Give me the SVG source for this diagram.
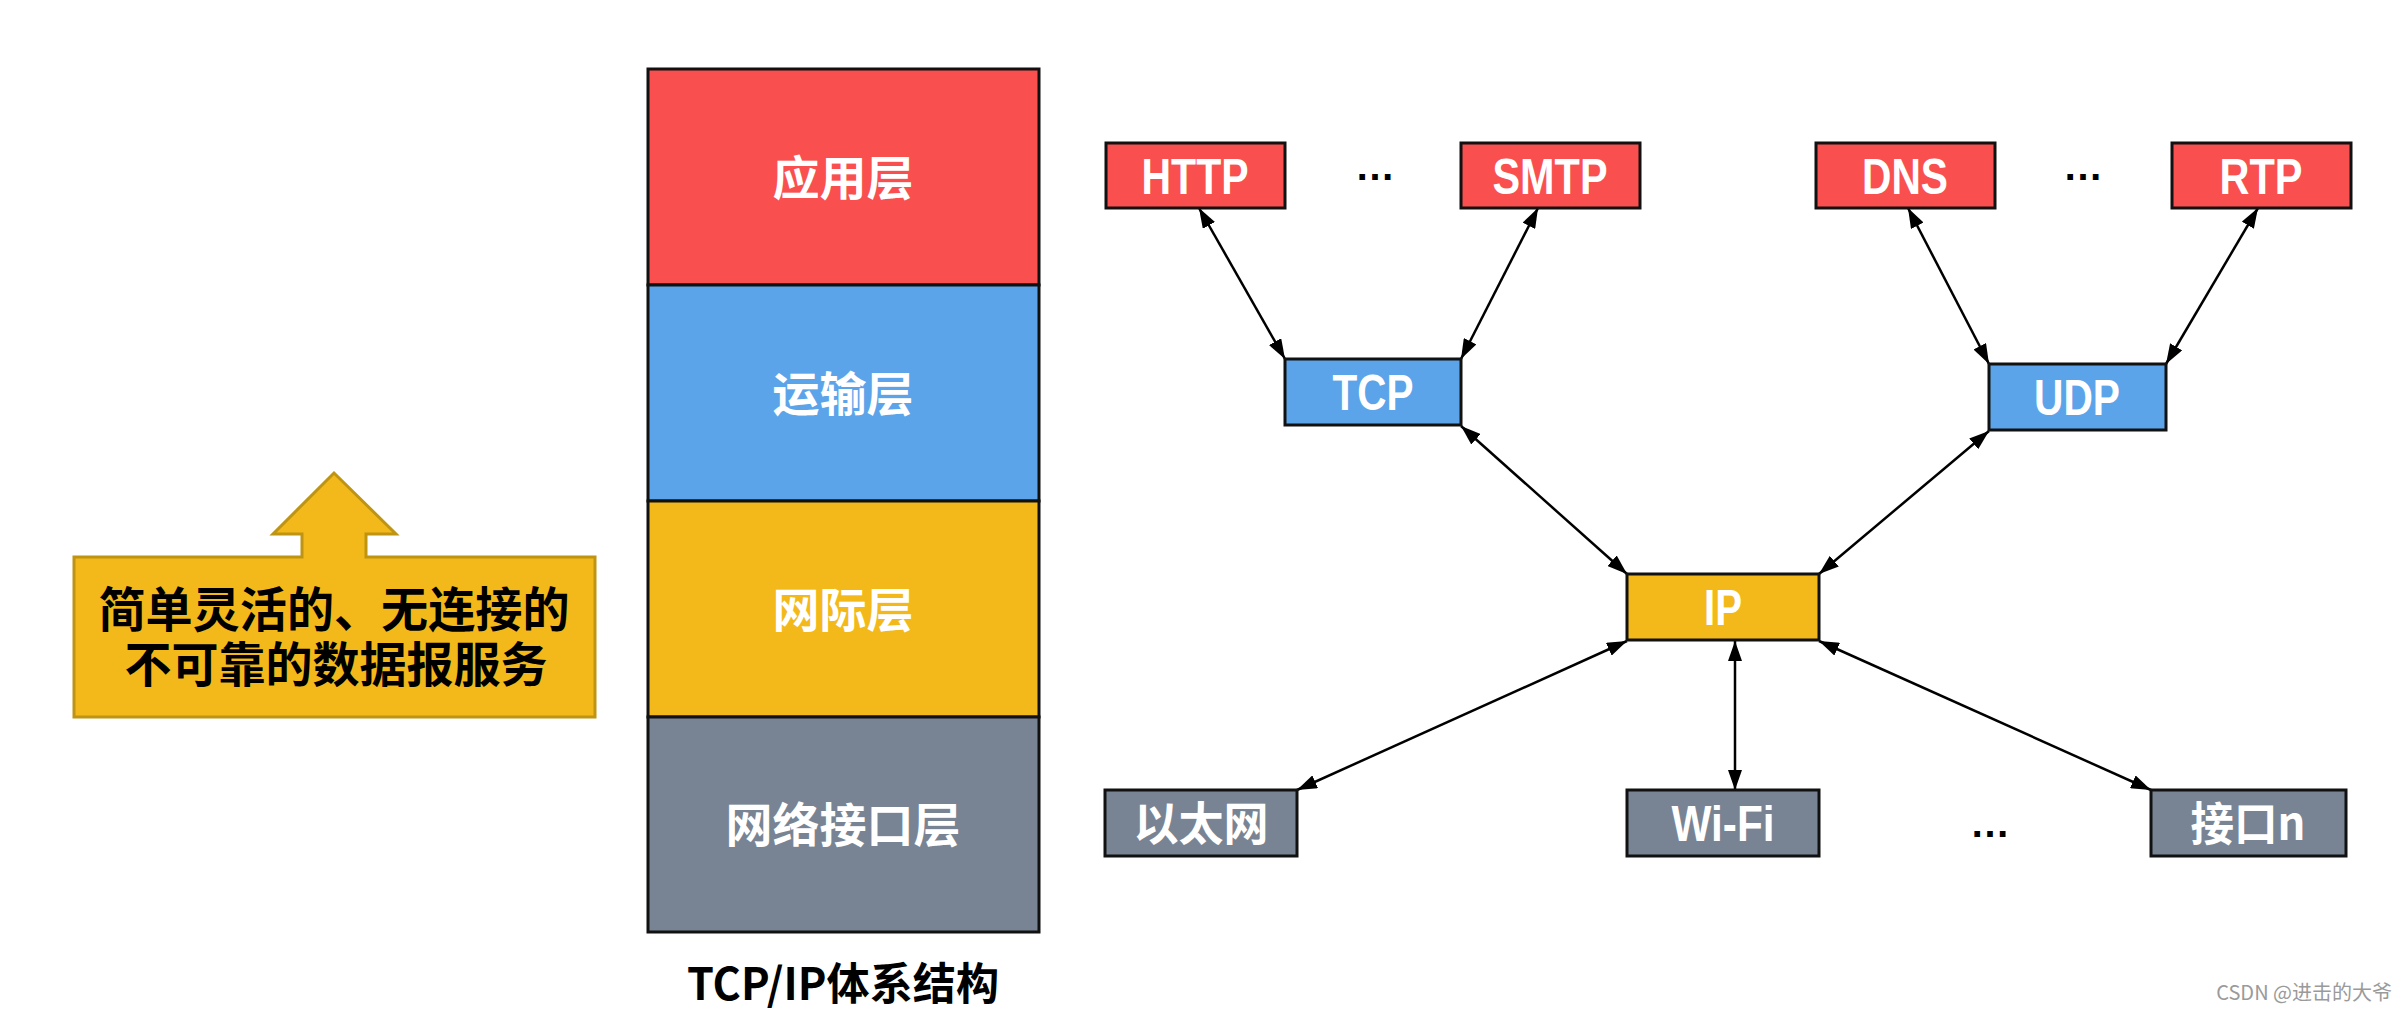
<svg xmlns="http://www.w3.org/2000/svg" width="2407" height="1012" viewBox="0 0 2407 1012">
<style>
.cjk{font-family:"Noto Sans CJK SC","Noto Sans",sans-serif;font-weight:bold;}
.cjk2{font-family:"Liberation Sans","Noto Sans CJK SC",sans-serif;font-weight:bold;}
.lat{font-family:"Liberation Sans","Noto Sans CJK SC",sans-serif;font-weight:bold;}
.w{fill:#ffffff;}
.k{fill:#000000;}
.red{fill:#F94F4F;stroke:#111;stroke-width:3;}
.blue{fill:#5CA4E9;stroke:#111;stroke-width:3;}
.yel{fill:#F3B91A;stroke:#111;stroke-width:3;}
.gray{fill:#788494;stroke:#111;stroke-width:3;}
.conn line{stroke:#000;stroke-width:2.5;marker-start:url(#ah);marker-end:url(#ah);}
</style>
<defs>
<marker id="ah" viewBox="0 0 20 14" markerUnits="userSpaceOnUse" markerWidth="20" markerHeight="14" refX="20" refY="7" orient="auto-start-reverse">
<path d="M0,0 L20,7 L0,14 z" fill="#000"/>
</marker>
</defs>
<rect width="2407" height="1012" fill="#ffffff"/>

<g id="callout">
<path d="M74,557 L302,557 L302,534 L273,534 L334,473 L396,534 L366,534 L366,557 L595,557 L595,717 L74,717 Z" fill="#F3B91A" stroke="#BF9412" stroke-width="3"/>
<text class="cjk2 k" x="334" y="627" font-size="48" text-anchor="middle" textLength="471" lengthAdjust="spacingAndGlyphs">简单灵活的、无连接的</text>
<text class="cjk2 k" x="336" y="682" font-size="48" text-anchor="middle" textLength="423" lengthAdjust="spacingAndGlyphs">不可靠的数据报服务</text>
</g>

<g id="stack">
<rect class="red" x="648" y="69" width="391" height="216"/>
<rect class="blue" x="648" y="285" width="391" height="216"/>
<rect class="yel" x="648" y="501" width="391" height="216"/>
<rect class="gray" x="648" y="717" width="391" height="215"/>
<text class="cjk w" x="843" y="195" font-size="47" text-anchor="middle">应用层</text>
<text class="cjk w" x="843" y="411" font-size="47" text-anchor="middle">运输层</text>
<text class="cjk w" x="843" y="627" font-size="47" text-anchor="middle">网际层</text>
<text class="cjk w" x="843" y="842" font-size="47" text-anchor="middle">网络接口层</text>
</g>
<text id="title" class="cjk k" x="843" y="1000" font-size="44" text-anchor="middle" textLength="312" lengthAdjust="spacingAndGlyphs">TCP/IP体系结构</text>

<g class="conn" id="connectors">
<line x1="1199" y1="208" x2="1285" y2="359"/>
<line x1="1538" y1="208" x2="1461" y2="359"/>
<line x1="1908" y1="208" x2="1989" y2="364"/>
<line x1="2258" y1="208" x2="2166" y2="364"/>
<line x1="1461" y1="426" x2="1627" y2="574"/>
<line x1="1989" y1="431" x2="1819" y2="574"/>
<line x1="1627" y1="641" x2="1297" y2="790"/>
<line x1="1735" y1="641" x2="1735" y2="790"/>
<line x1="1819" y1="641" x2="2151" y2="790"/>
</g>

<g id="n-http"><rect class="red" x="1106" y="143" width="179" height="65"/><text class="lat w" x="1195" y="194" font-size="50" text-anchor="middle" textLength="107" lengthAdjust="spacingAndGlyphs">HTTP</text></g>
<text id="dots1" class="lat k" x="1375" y="180" font-size="40" text-anchor="middle">…</text>
<g id="n-smtp"><rect class="red" x="1461" y="143" width="179" height="65"/><text class="lat w" x="1550" y="194" font-size="50" text-anchor="middle" textLength="115" lengthAdjust="spacingAndGlyphs">SMTP</text></g>
<g id="n-dns"><rect class="red" x="1816" y="143" width="179" height="65"/><text class="lat w" x="1905" y="194" font-size="50" text-anchor="middle" textLength="86" lengthAdjust="spacingAndGlyphs">DNS</text></g>
<text id="dots2" class="lat k" x="2083" y="180" font-size="40" text-anchor="middle">…</text>
<g id="n-rtp"><rect class="red" x="2172" y="143" width="179" height="65"/><text class="lat w" x="2261" y="194" font-size="50" text-anchor="middle" textLength="83" lengthAdjust="spacingAndGlyphs">RTP</text></g>

<g id="n-tcp"><rect class="blue" x="1285" y="359" width="176" height="66"/><text class="lat w" x="1373" y="410" font-size="50" text-anchor="middle" textLength="81" lengthAdjust="spacingAndGlyphs">TCP</text></g>
<g id="n-udp"><rect class="blue" x="1989" y="364" width="177" height="66"/><text class="lat w" x="2077" y="415" font-size="50" text-anchor="middle" textLength="86" lengthAdjust="spacingAndGlyphs">UDP</text></g>

<g id="n-ip"><rect class="yel" x="1627" y="574" width="192" height="66"/><text class="lat w" x="1723" y="625" font-size="50" text-anchor="middle" textLength="38" lengthAdjust="spacingAndGlyphs">IP</text></g>

<g id="n-eth"><rect class="gray" x="1105" y="790" width="192" height="66"/><text class="cjk w" x="1201" y="840" font-size="46" text-anchor="middle" textLength="135" lengthAdjust="spacingAndGlyphs">以太网</text></g>
<g id="n-wifi"><rect class="gray" x="1627" y="790" width="192" height="66"/><text class="lat w" x="1723" y="841" font-size="50" text-anchor="middle" textLength="103" lengthAdjust="spacingAndGlyphs">Wi-Fi</text></g>
<text id="dots3" class="lat k" x="1990" y="837" font-size="40" text-anchor="middle">…</text>
<g id="n-ifn"><rect class="gray" x="2151" y="790" width="195" height="66"/><text class="cjk w" x="2248" y="840" font-size="46" text-anchor="middle" textLength="115" lengthAdjust="spacingAndGlyphs">接口n</text></g>

<text id="watermark" x="2392" y="1000" font-size="20" fill="#9a9a9a" text-anchor="end" font-family="'Noto Sans CJK SC',sans-serif">CSDN @进击的大爷</text>
</svg>
